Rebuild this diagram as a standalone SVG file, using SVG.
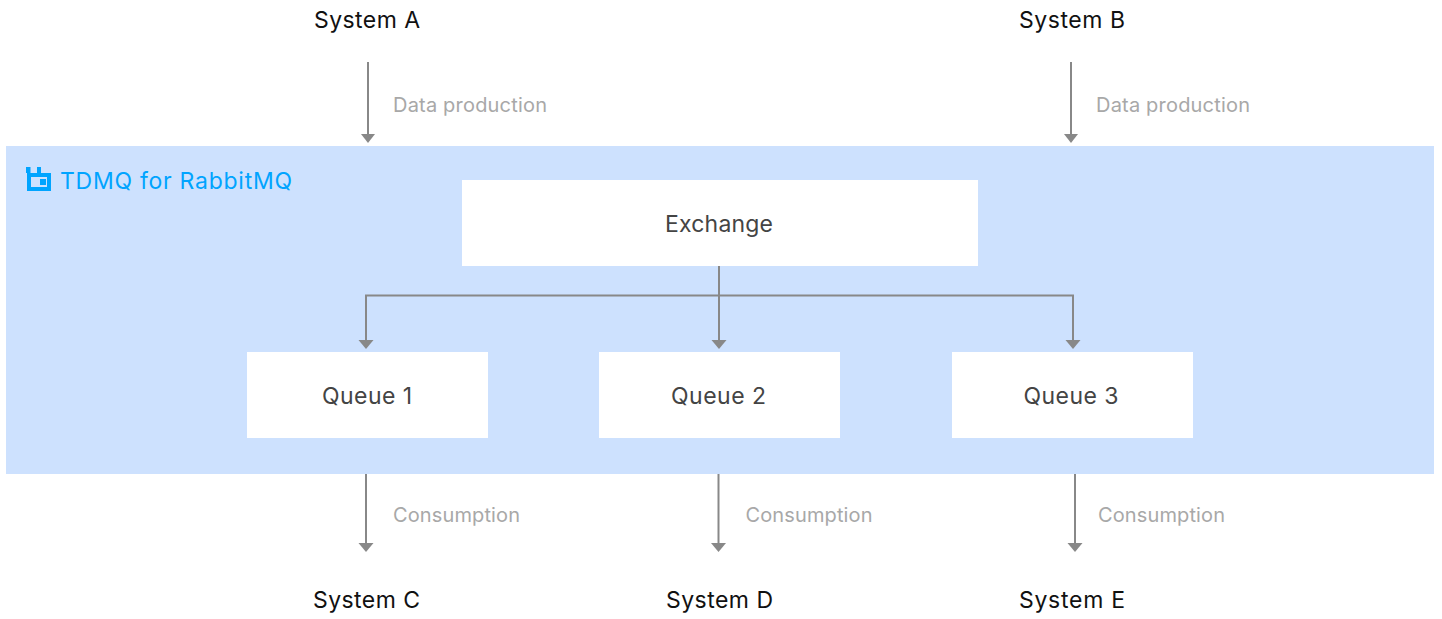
<svg xmlns="http://www.w3.org/2000/svg" width="1442" height="619" viewBox="0 0 1442 619">
<style>
text{font-family:Inter,"Liberation Sans",sans-serif;text-anchor:middle}
.sys{font-size:23px;fill:#111}
.lbl{font-size:20px;fill:#a8a8a8;text-anchor:start}
.box{fill:#fff}
.n{font-size:23px;fill:#444}
.c{fill:none;stroke:#888;stroke-width:2}
.h{fill:#888}
</style>
<rect id="container" x="6" y="146" width="1428" height="328" fill="#cde1fe"/>
<g id="brand">
<path d="M26 167H30.500V173H37V167H41V173H51V191H27V173H26ZM31 177V187H47V177ZM40 179H46V185H40Z" fill="#00a4ff" fill-rule="evenodd"/>
<text x="60" y="188.500" style="text-anchor:start;font-size:23px;fill:#00a4ff" textLength="232">TDMQ for RabbitMQ</text>
</g>
<g id="connectors">
<path d="M368 62V135" class="c"/><path class="h" d="M361 134H375L368 143Z"/>
<path d="M1071 62V135" class="c"/><path class="h" d="M1064 134H1078L1071 143Z"/>
<path d="M719 266V342" class="c"/><path class="h" d="M711.500 340H726.500L719 349Z"/>
<path d="M366 342V295.500H1073V342" class="c"/><path class="h" d="M358.500 340H373.500L366 349Z"/><path class="h" d="M1065.500 340H1080.500L1073 349Z"/>
<path d="M366 474V544" class="c"/><path class="h" d="M358.500 543H373.500L366 552Z"/>
<path d="M718.500 474V544" class="c"/><path class="h" d="M711 543H726L718.500 552Z"/>
<path d="M1075 474V544" class="c"/><path class="h" d="M1067.500 543H1082.500L1075 552Z"/>
</g>
<g id="sysA"><text class="sys" x="367" y="28" textLength="106">System A</text></g>
<g id="sysB"><text class="sys" x="1072" y="28" textLength="106">System B</text></g>
<g id="sysC"><text class="sys" x="366.500" y="608" textLength="107">System C</text></g>
<g id="sysD"><text class="sys" x="719.500" y="608" textLength="107">System D</text></g>
<g id="sysE"><text class="sys" x="1072" y="608" textLength="106">System E</text></g>
<g id="labels">
<text class="lbl" x="393" y="112" textLength="154">Data production</text>
<text class="lbl" x="1096" y="112" textLength="154">Data production</text>
<text class="lbl" x="393" y="522" textLength="127">Consumption</text>
<text class="lbl" x="745.500" y="522" textLength="127">Consumption</text>
<text class="lbl" x="1098" y="522" textLength="127">Consumption</text>
</g>
<g id="exchange"><rect class="box" x="462" y="180" width="516" height="86"/><text class="n" x="719" y="231.500" textLength="108">Exchange</text></g>
<g id="q1"><rect class="box" x="247" y="352" width="241" height="86"/><text class="n" x="367" y="403.500" textLength="90">Queue 1</text></g>
<g id="q2"><rect class="box" x="599" y="352" width="241" height="86"/><text class="n" x="718.500" y="403.500" textLength="95">Queue 2</text></g>
<g id="q3"><rect class="box" x="952" y="352" width="241" height="86"/><text class="n" x="1071" y="403.500" textLength="95">Queue 3</text></g>
</svg>
